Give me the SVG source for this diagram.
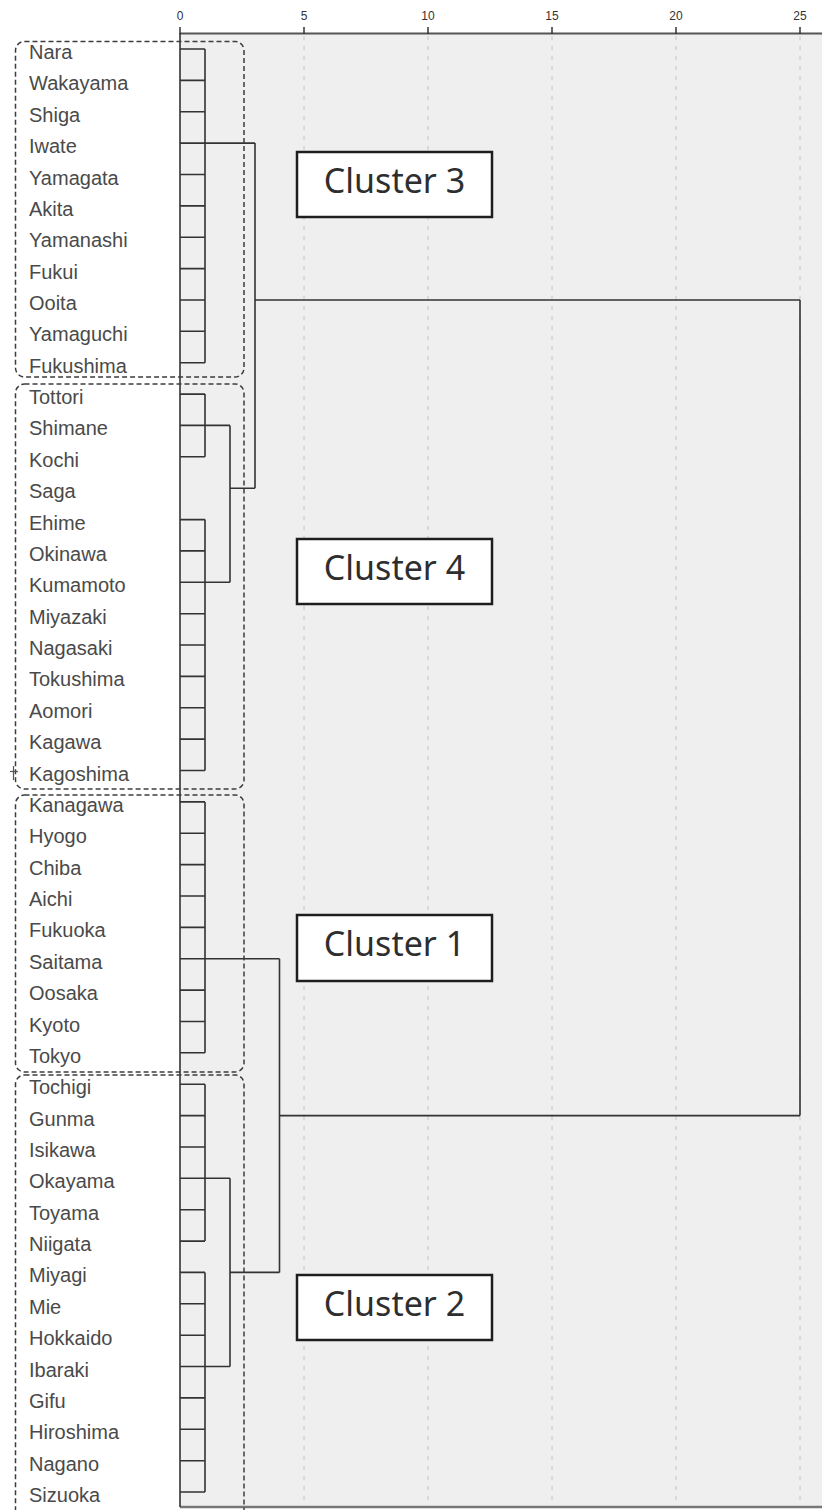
<svg xmlns="http://www.w3.org/2000/svg" width="822" height="1510" viewBox="0 0 822 1510">
<style>
.lbl{font-family:"Liberation Sans",Arial,sans-serif;font-size:20px;fill:#4a4a4a}
.tick{font-family:"Liberation Sans",Arial,sans-serif;font-size:12px;fill:#333;text-anchor:middle}
.dn{stroke:#333;stroke-width:1.6;fill:none}
.grid{stroke:#c4c4c4;stroke-width:1;stroke-dasharray:4 6;fill:none}
.dbox{stroke:#3c3c3c;stroke-width:1.5;stroke-dasharray:5 3;fill:none}
.cbox{fill:#fff;stroke:#1e1e1e;stroke-width:2.5}
.ctext{font-family:"Noto Sans","Noto Sans CJK JP",sans-serif;font-size:34px;fill:#2e2e2e;text-anchor:middle}
</style>
<rect x="0" y="0" width="822" height="1510" fill="#fff"/>
<rect x="180" y="34" width="642" height="1473" fill="#efefef"/>
<g id="grid">
<line class="grid" x1="304" y1="36" x2="304" y2="1506"/>
<line class="grid" x1="428" y1="36" x2="428" y2="1506"/>
<line class="grid" x1="552" y1="36" x2="552" y2="1506"/>
<line class="grid" x1="676" y1="36" x2="676" y2="1506"/>
<line class="grid" x1="800" y1="36" x2="800" y2="1506"/>
</g>
<g id="axis">
<line x1="180" y1="33.5" x2="822" y2="33.5" stroke="#555" stroke-width="2"/>
<line x1="180" y1="1507" x2="822" y2="1507" stroke="#777" stroke-width="2.5"/>
<g stroke="#333" stroke-width="1.5">
<line x1="180" y1="27" x2="180" y2="34"/>
<line x1="304" y1="27" x2="304" y2="34"/>
<line x1="428" y1="27" x2="428" y2="34"/>
<line x1="552" y1="27" x2="552" y2="34"/>
<line x1="676" y1="27" x2="676" y2="34"/>
<line x1="800" y1="27" x2="800" y2="34"/>
</g>
<text class="tick" x="180" y="20">0</text>
<text class="tick" x="304" y="20">5</text>
<text class="tick" x="428" y="20">10</text>
<text class="tick" x="552" y="20">15</text>
<text class="tick" x="676" y="20">20</text>
<text class="tick" x="800" y="20">25</text>
</g>
<g id="labels">
<text class="lbl" x="29" y="59">Nara</text>
<text class="lbl" x="29" y="90.4">Wakayama</text>
<text class="lbl" x="29" y="121.7">Shiga</text>
<text class="lbl" x="29" y="153.1">Iwate</text>
<text class="lbl" x="29" y="184.5">Yamagata</text>
<text class="lbl" x="29" y="215.9">Akita</text>
<text class="lbl" x="29" y="247.2">Yamanashi</text>
<text class="lbl" x="29" y="278.6">Fukui</text>
<text class="lbl" x="29" y="310">Ooita</text>
<text class="lbl" x="29" y="341.3">Yamaguchi</text>
<text class="lbl" x="29" y="372.7">Fukushima</text>
<text class="lbl" x="29" y="404.1">Tottori</text>
<text class="lbl" x="29" y="435.4">Shimane</text>
<text class="lbl" x="29" y="466.8">Kochi</text>
<text class="lbl" x="29" y="498.2">Saga</text>
<text class="lbl" x="29" y="529.6">Ehime</text>
<text class="lbl" x="29" y="560.9">Okinawa</text>
<text class="lbl" x="29" y="592.3">Kumamoto</text>
<text class="lbl" x="29" y="623.7">Miyazaki</text>
<text class="lbl" x="29" y="655">Nagasaki</text>
<text class="lbl" x="29" y="686.4">Tokushima</text>
<text class="lbl" x="29" y="717.8">Aomori</text>
<text class="lbl" x="29" y="749.1">Kagawa</text>
<text class="lbl" x="29" y="780.5">Kagoshima</text>
<text class="lbl" x="29" y="811.9">Kanagawa</text>
<text class="lbl" x="29" y="843.3">Hyogo</text>
<text class="lbl" x="29" y="874.6">Chiba</text>
<text class="lbl" x="29" y="906">Aichi</text>
<text class="lbl" x="29" y="937.4">Fukuoka</text>
<text class="lbl" x="29" y="968.7">Saitama</text>
<text class="lbl" x="29" y="1000.1">Oosaka</text>
<text class="lbl" x="29" y="1031.5">Kyoto</text>
<text class="lbl" x="29" y="1062.8">Tokyo</text>
<text class="lbl" x="29" y="1094.2">Tochigi</text>
<text class="lbl" x="29" y="1125.6">Gunma</text>
<text class="lbl" x="29" y="1157">Isikawa</text>
<text class="lbl" x="29" y="1188.3">Okayama</text>
<text class="lbl" x="29" y="1219.7">Toyama</text>
<text class="lbl" x="29" y="1251.1">Niigata</text>
<text class="lbl" x="29" y="1282.4">Miyagi</text>
<text class="lbl" x="29" y="1313.8">Mie</text>
<text class="lbl" x="29" y="1345.2">Hokkaido</text>
<text class="lbl" x="29" y="1376.5">Ibaraki</text>
<text class="lbl" x="29" y="1407.9">Gifu</text>
<text class="lbl" x="29" y="1439.3">Hiroshima</text>
<text class="lbl" x="29" y="1470.7">Nagano</text>
<text class="lbl" x="29" y="1502">Sizuoka</text>
</g>
<g id="connectors">
<line class="dn" x1="180" y1="33" x2="180" y2="1507"/>
<path class="dn" d="M180 49H205M180 80.4H205M180 111.7H205M180 143.1H205M180 174.5H205M180 205.9H205M180 237.2H205M180 268.6H205M180 300H205M180 331.3H205M180 362.7H205M205 49V362.7"/>
<path class="dn" d="M180 394.1H205M180 425.4H205M180 456.8H205M205 394.1V456.8"/>
<path class="dn" d="M180 519.6H205M180 550.9H205M180 582.3H205M180 613.7H205M180 645H205M180 676.4H205M180 707.8H205M180 739.1H205M180 770.5H205M205 519.6V770.5"/>
<path class="dn" d="M180 801.9H205M180 833.3H205M180 864.6H205M180 896H205M180 927.4H205M180 958.7H205M180 990.1H205M180 1021.5H205M180 1052.8H205M205 801.9V1052.8"/>
<path class="dn" d="M180 1084.2H205M180 1115.6H205M180 1147H205M180 1178.3H205M180 1209.7H205M180 1241.1H205M205 1084.2V1241.1"/>
<path class="dn" d="M180 1272.4H205M180 1303.8H205M180 1335.2H205M180 1366.5H205M180 1397.9H205M180 1429.3H205M180 1460.7H205M180 1492H205M205 1272.4V1492"/>
<path class="dn" d="M205 425.4H230M205 582.3H230M230 425.4V582.3"/>
<path class="dn" d="M205 143.1H255M230 488.2H255M255 143.1V488.2"/>
<path class="dn" d="M205 1178.3H230M205 1366.5H230M230 1178.3V1366.5"/>
<path class="dn" d="M205 958.7H279.5M230 1272.4H279.5M279.5 958.7V1272.4"/>
<path class="dn" d="M255 300H800M279.5 1115.6H800M800 300V1115.6"/>
</g>
<g id="dashed-boxes">
<rect class="dbox" x="15.5" y="41.5" width="228.5" height="335.5" rx="9"/>
<rect class="dbox" x="15.5" y="384" width="228.5" height="405" rx="9"/>
<rect class="dbox" x="15.5" y="795" width="228.5" height="277" rx="9"/>
<rect class="dbox" x="15.5" y="1075" width="228.5" height="460" rx="9"/>
</g>
<g id="cluster3"><rect class="cbox" x="297" y="152" width="195" height="65"/><text class="ctext" x="394.5" y="193">Cluster 3</text></g>
<g id="cluster4"><rect class="cbox" x="297" y="539" width="195" height="65"/><text class="ctext" x="394.5" y="580">Cluster 4</text></g>
<g id="cluster1"><rect class="cbox" x="297" y="915" width="195" height="66"/><text class="ctext" x="394.5" y="956">Cluster 1</text></g>
<g id="cluster2"><rect class="cbox" x="297" y="1275" width="195" height="65"/><text class="ctext" x="394.5" y="1316">Cluster 2</text></g>
<g id="cursor" stroke="#555" stroke-width="1.2"><line x1="13.5" y1="766" x2="13.5" y2="780"/><line x1="10" y1="771.5" x2="18" y2="771.5"/></g>
</svg>
